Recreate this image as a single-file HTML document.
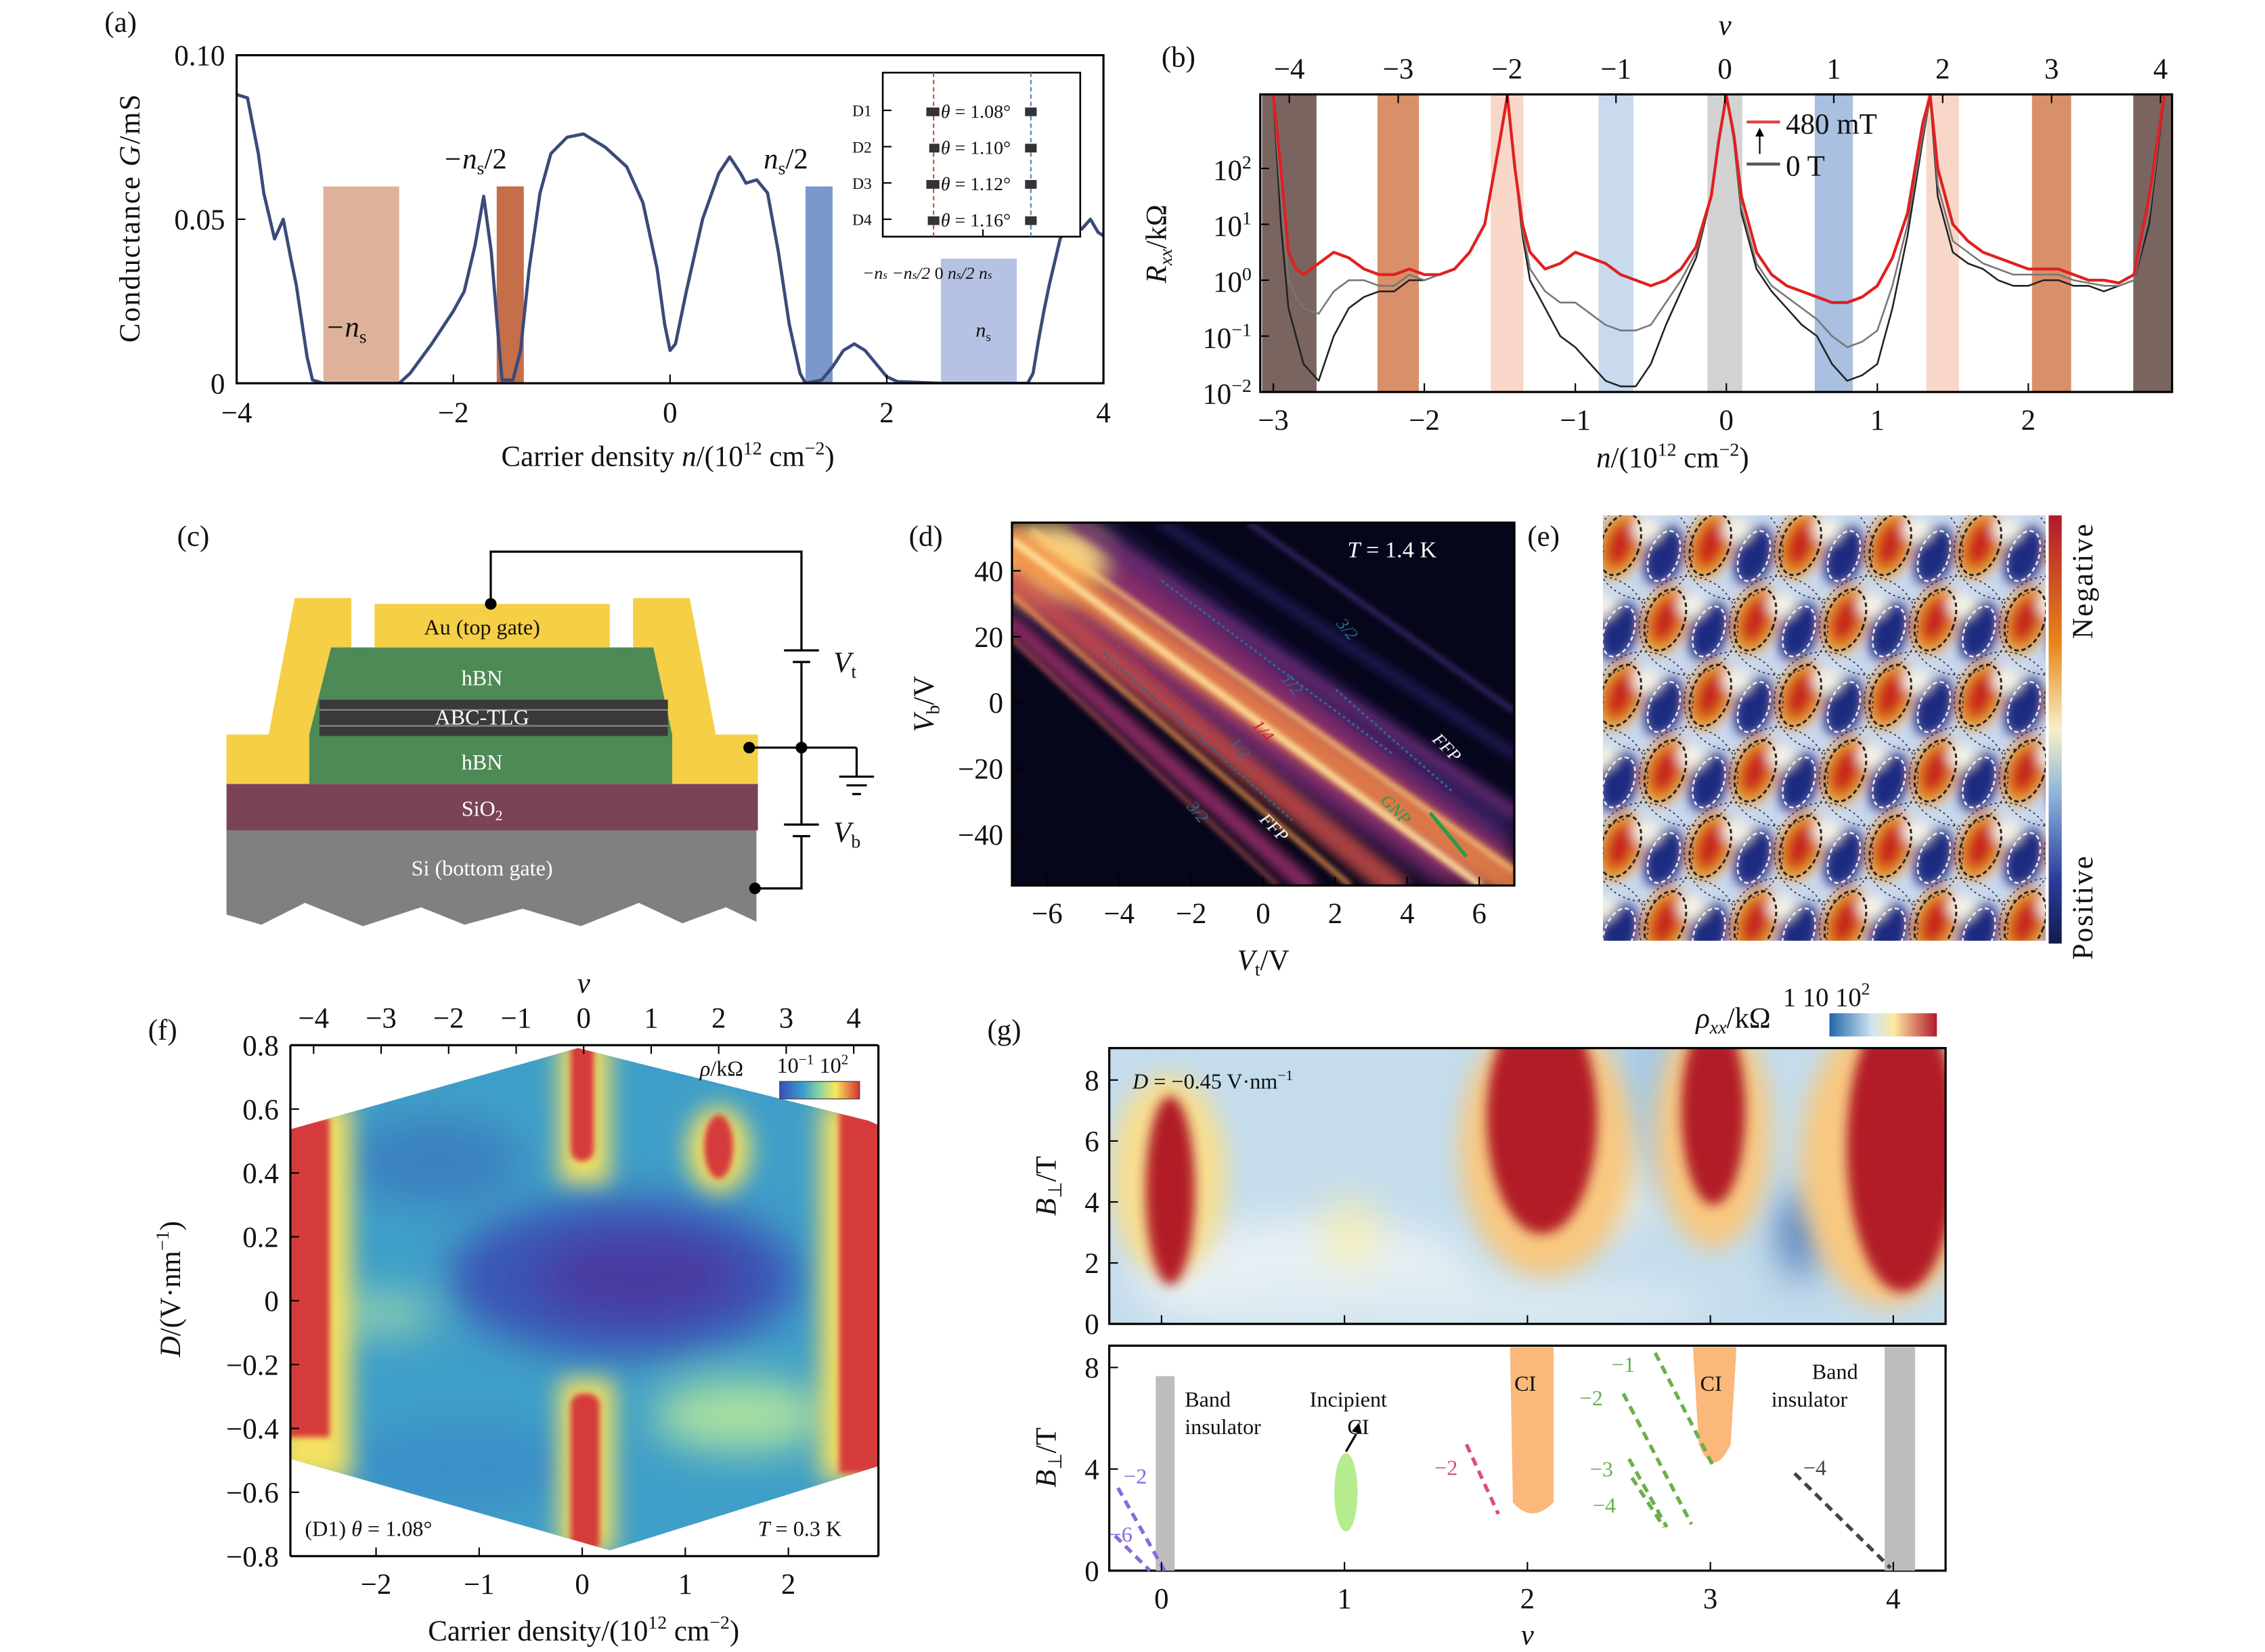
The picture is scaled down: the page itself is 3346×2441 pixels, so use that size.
<!DOCTYPE html>
<html><head><meta charset="utf-8">
<style>
html,body{margin:0;padding:0;background:#fff}
svg{display:block}
text{font-family:"Liberation Serif",serif;fill:#111}
</style></head>
<body>
<svg id="fig" width="3346" height="2441" viewBox="0 0 1560 1138" xmlns="http://www.w3.org/2000/svg">
<defs>
<filter id="b2" x="-20%" y="-20%" width="140%" height="140%"><feGaussianBlur stdDeviation="2"/></filter>
<filter id="b4" x="-30%" y="-30%" width="160%" height="160%"><feGaussianBlur stdDeviation="4"/></filter>
<filter id="b8" x="-50%" y="-50%" width="200%" height="200%"><feGaussianBlur stdDeviation="8"/></filter>
<filter id="b14" x="-50%" y="-50%" width="200%" height="200%"><feGaussianBlur stdDeviation="14"/></filter>
<clipPath id="clipA"><rect x="163" y="38" width="597" height="226"/></clipPath>
<clipPath id="clipB"><rect x="868" y="65" width="628" height="205"/></clipPath>
<clipPath id="clipD"><rect x="697" y="360" width="346" height="250"/></clipPath>
<clipPath id="clipE"><rect x="1104" y="355" width="305" height="293"/></clipPath>
<clipPath id="clipF"><polygon points="200,778 398,722 598,772 605,775 605,1010 420,1068 200,1005"/></clipPath>
<clipPath id="clipG"><rect x="764" y="722" width="576" height="190"/></clipPath>
<linearGradient id="cbE" x1="0" y1="0" x2="0" y2="1">
<stop offset="0" stop-color="#b2182b"/><stop offset="0.3" stop-color="#e7861b"/><stop offset="0.5" stop-color="#f7f0c8"/><stop offset="0.65" stop-color="#8fb4dc"/><stop offset="0.85" stop-color="#2a3d9c"/><stop offset="1" stop-color="#141a4a"/></linearGradient>
<linearGradient id="cbF" x1="0" y1="0" x2="1" y2="0">
<stop offset="0" stop-color="#3b4cc0"/><stop offset="0.3" stop-color="#3aa0c8"/><stop offset="0.5" stop-color="#8fd3a0"/><stop offset="0.7" stop-color="#f7e85a"/><stop offset="1" stop-color="#d73030"/></linearGradient>
<linearGradient id="cbG" x1="0" y1="0" x2="1" y2="0">
<stop offset="0" stop-color="#2166ac"/><stop offset="0.4" stop-color="#d1e5f0"/><stop offset="0.6" stop-color="#fde9a0"/><stop offset="1" stop-color="#b2182b"/></linearGradient>
</defs>

<!-- ===== Panel (a) ===== -->
<g id="pa">
<text x="72" y="22" font-size="20">(a)</text>
<g id="aBars"></g>
<g id="aLine" clip-path="url(#clipA)"></g>
<rect x="163" y="38" width="597" height="226" fill="none" stroke="#000" stroke-width="1.5"/>
<g id="aAxes"></g>
<text x="224" y="232" font-size="20" font-style="italic">−n<tspan font-size="13" dy="4" font-style="normal">s</tspan></text>
<text x="305" y="116" font-size="20" font-style="italic">−n<tspan font-size="13" dy="4" font-style="normal">s</tspan><tspan dy="-4" font-style="normal">/2</tspan></text>
<text x="526" y="116" font-size="20" font-style="italic">n<tspan font-size="13" dy="4" font-style="normal">s</tspan><tspan dy="-4" font-style="normal">/2</tspan></text>
<text x="672" y="232" font-size="14" font-style="italic">n<tspan font-size="9" dy="3" font-style="normal">s</tspan></text>
<text x="460" y="321" font-size="20" text-anchor="middle">Carrier density <tspan font-style="italic">n</tspan>/(10<tspan font-size="13" dy="-8">12</tspan><tspan dy="8"> cm</tspan><tspan font-size="13" dy="-8">−2</tspan><tspan dy="8">)</tspan></text>
<text transform="translate(96,150) rotate(-90)" font-size="20" text-anchor="middle" letter-spacing="1">Conductance <tspan font-style="italic">G</tspan>/mS</text>
<g>
<rect x="608" y="50" width="136" height="113" fill="#fff" stroke="#000" stroke-width="1.2"/>
<line x1="643" y1="50" x2="643" y2="163" stroke="#c0573a" stroke-width="1" stroke-dasharray="3,2"/>
<line x1="710" y1="50" x2="710" y2="163" stroke="#5a7fb8" stroke-width="1" stroke-dasharray="3,2"/>
<g font-size="11">
<text x="587" y="80">D1</text><text x="587" y="105">D2</text><text x="587" y="130">D3</text><text x="587" y="155">D4</text>
<text x="648" y="81" font-size="13"><tspan font-style="italic">θ</tspan> = 1.08°</text>
<text x="648" y="106" font-size="13"><tspan font-style="italic">θ</tspan> = 1.10°</text>
<text x="648" y="131" font-size="13"><tspan font-style="italic">θ</tspan> = 1.12°</text>
<text x="648" y="156" font-size="13"><tspan font-style="italic">θ</tspan> = 1.16°</text>
</g>
<g fill="#333"><rect x="638" y="74" width="9" height="6"/><rect x="706" y="74" width="8" height="6"/><rect x="640" y="99" width="7" height="6"/><rect x="706" y="99" width="8" height="6"/><rect x="638" y="124" width="9" height="6"/><rect x="706" y="124" width="8" height="6"/><rect x="639" y="149" width="8" height="6"/><rect x="706" y="149" width="8" height="6"/></g>
<g stroke="#000"><line x1="608" y1="76" x2="614" y2="76"/><line x1="608" y1="101" x2="614" y2="101"/><line x1="608" y1="126" x2="614" y2="126"/><line x1="608" y1="151" x2="614" y2="151"/><line x1="677" y1="163" x2="677" y2="158"/></g>
<text x="594" y="192" font-size="12" font-style="italic">−n<tspan font-size="8">s</tspan> −n<tspan font-size="8">s</tspan>/2 <tspan font-style="normal"> 0 </tspan> n<tspan font-size="8">s</tspan>/2    n<tspan font-size="8">s</tspan></text>
</g>
</g>

<!-- ===== Panel (b) ===== -->
<g id="pb">
<text x="800" y="46" font-size="20">(b)</text>
<g id="bBands" clip-path="url(#clipB)"></g>
<g id="bLines" clip-path="url(#clipB)"></g>
<rect x="868" y="65" width="628" height="205" fill="none" stroke="#000" stroke-width="1.5"/>
<g id="bAxes"></g>
<text x="1188" y="24" font-size="20" font-style="italic" text-anchor="middle">v</text>
<text x="1152" y="322" font-size="20" text-anchor="middle"><tspan font-style="italic">n</tspan>/(10<tspan font-size="13" dy="-8">12</tspan><tspan dy="8"> cm</tspan><tspan font-size="13" dy="-8">−2</tspan><tspan dy="8">)</tspan></text>
<text transform="translate(803,168) rotate(-90)" font-size="20" text-anchor="middle"><tspan font-style="italic">R<tspan font-size="13" dy="4">xx</tspan></tspan><tspan dy="-4">/kΩ</tspan></text>
<g>
<line x1="1203" y1="84" x2="1226" y2="84" stroke="#e04040" stroke-width="2"/>
<line x1="1203" y1="113" x2="1226" y2="113" stroke="#555" stroke-width="2"/>
<line x1="1212" y1="106" x2="1212" y2="92" stroke="#000" stroke-width="1"/><polygon points="1209,94 1215,94 1212,88" fill="#000"/>
<text x="1230" y="92" font-size="20">480 mT</text>
<text x="1230" y="121" font-size="20">0 T</text>
</g>
</g>

<!-- ===== Panel (c) ===== -->
<g id="pc">
<text x="122" y="376" font-size="20">(c)</text>
<polygon points="156,572 521,572 521,635 500,625 470,636 440,622 400,638 360,626 320,637 290,625 250,638 210,622 180,637 156,630" fill="#808080"/>
<text x="332" y="603" font-size="15" style="fill:#fff" text-anchor="middle">Si (bottom gate)</text>
<rect x="156" y="540" width="366" height="32" fill="#7b4358"/>
<text x="332" y="562" font-size="15" text-anchor="middle" style="fill:#fff">SiO<tspan font-size="10" dy="3">2</tspan></text>
<polygon points="203,412 242,412 242,446 228,446 213,506 213,540 156,540 156,506 185,506" fill="#f5cf45"/>
<polygon points="436,412 475,412 493,506 522,506 522,540 463,540 463,506 450,446 436,446" fill="#f5cf45"/>
<polygon points="228,446 450,446 463,506 463,540 213,540 213,506" fill="#4e8a55"/>
<rect x="220" y="482" width="240" height="25" fill="#3a3a3a"/>
<line x1="220" y1="489" x2="460" y2="489" stroke="#888" stroke-width="1"/>
<line x1="220" y1="500" x2="460" y2="500" stroke="#888" stroke-width="1"/>
<text x="332" y="472" font-size="15" text-anchor="middle" style="fill:#fff">hBN</text>
<text x="332" y="499" font-size="15" text-anchor="middle" style="fill:#fff">ABC-TLG</text>
<text x="332" y="530" font-size="15" text-anchor="middle" style="fill:#fff">hBN</text>
<rect x="258" y="416" width="162" height="30" fill="#f5cf45"/>
<text x="332" y="437" font-size="15" text-anchor="middle">Au (top gate)</text>
<g fill="none" stroke="#000" stroke-width="1.5">
<polyline points="338,416 338,380 552,380 552,448"/>
<line x1="540" y1="448" x2="564" y2="448"/><line x1="546" y1="456" x2="558" y2="456"/>
<polyline points="552,456 552,568"/>
<line x1="516" y1="515" x2="590" y2="515"/>
<polyline points="590,515 590,535"/><line x1="578" y1="535" x2="602" y2="535"/><line x1="583" y1="541" x2="597" y2="541"/><line x1="587" y1="547" x2="593" y2="547"/>
<line x1="540" y1="568" x2="564" y2="568"/><line x1="546" y1="576" x2="558" y2="576"/>
<polyline points="552,576 552,612 520,612"/>
</g>
<g fill="#000"><circle cx="338" cy="416" r="4"/><circle cx="516" cy="515" r="4"/><circle cx="552" cy="515" r="4"/><circle cx="520" cy="612" r="4"/></g>
<text x="574" y="463" font-size="20" font-style="italic">V<tspan font-size="13" dy="4" font-style="normal">t</tspan></text>
<text x="574" y="580" font-size="20" font-style="italic">V<tspan font-size="13" dy="4" font-style="normal">b</tspan></text>
</g>

<!-- ===== Panel (d) ===== -->
<g id="pd">
<text x="626" y="376" font-size="20">(d)</text>
<g clip-path="url(#clipD)">
<rect x="697" y="360" width="346" height="250" fill="#06061a"/>
<g filter="url(#b8)">
<polygon points="697,360 760,360 1043,560 1043,610 990,610 697,420" fill="#2a1a60"/>
<polygon points="697,360 740,360 1043,590 1043,610 1000,610 697,395" fill="#8a2d6a"/>
<ellipse cx="720" cy="385" rx="40" ry="25" fill="#f7d080"/>
</g>
<g filter="url(#b4)" fill="none" stroke-linecap="round">
<line x1="697" y1="375" x2="1043" y2="610" stroke="#f08a40" stroke-width="22" opacity="0.8"/>
<line x1="697" y1="400" x2="960" y2="610" stroke="#d0504a" stroke-width="18" opacity="0.8"/>
<line x1="697" y1="430" x2="900" y2="610" stroke="#8b2a62" stroke-width="12"/>
<line x1="740" y1="360" x2="1043" y2="560" stroke="#6a2a70" stroke-width="8"/>
<line x1="800" y1="360" x2="1043" y2="520" stroke="#2a2270" stroke-width="5"/>
</g>
<g filter="url(#b2)" fill="none">
<line x1="697" y1="372" x2="1020" y2="610" stroke="#ffe09a" stroke-width="5"/>
<line x1="710" y1="365" x2="1043" y2="600" stroke="#ffcb70" stroke-width="3"/>
<line x1="697" y1="410" x2="930" y2="610" stroke="#ff9a50" stroke-width="3"/>
<line x1="697" y1="440" x2="880" y2="610" stroke="#d86060" stroke-width="2"/>
<line x1="860" y1="360" x2="1043" y2="490" stroke="#5a3a9a" stroke-width="2"/>
</g>
<line x1="800" y1="400" x2="960" y2="520" stroke="#2a6a8a" stroke-width="1.5" stroke-dasharray="2,2"/>
<line x1="770" y1="445" x2="900" y2="560" stroke="#c03040" stroke-width="1.5" stroke-dasharray="2,2"/>
<line x1="760" y1="450" x2="890" y2="565" stroke="#2a6a8a" stroke-width="1.5" stroke-dasharray="2,2"/>
<line x1="920" y1="475" x2="1000" y2="545" stroke="#2a6a8a" stroke-width="1.5" stroke-dasharray="2,2"/>
<line x1="985" y1="560" x2="1010" y2="590" stroke="#2a9a4a" stroke-width="2.5"/>
</g>
<g font-size="12" font-style="italic">
<text x="920" y="430" style="fill:#2a6a8a" transform="rotate(50,920,430)">3/2</text>
<text x="882" y="468" style="fill:#2a6a8a" transform="rotate(50,882,468)">1/2</text>
<text x="862" y="500" style="fill:#d02030" transform="rotate(50,862,500)">1/4</text>
<text x="846" y="512" style="fill:#2a6a8a" transform="rotate(50,846,512)">1/2</text>
<text x="817" y="556" style="fill:#2a6a8a" transform="rotate(50,817,556)">3/2</text>
<text x="867" y="565" style="fill:#fff" transform="rotate(45,867,565)">FFP</text>
<text x="986" y="510" style="fill:#fff" transform="rotate(45,986,510)">FFP</text>
<text x="950" y="552" style="fill:#2a9a4a" transform="rotate(45,950,552)">GNP</text>
</g>
<rect x="697" y="360" width="346" height="250" fill="none" stroke="#000" stroke-width="1.5"/>
<text x="928" y="384" font-size="16" style="fill:#fff"><tspan font-style="italic">T</tspan> = 1.4 K</text>
<g id="dAxes"></g>
<text x="870" y="668" font-size="20" text-anchor="middle" font-style="italic">V<tspan font-size="13" dy="4" font-style="normal">t</tspan><tspan dy="-4" font-style="normal">/V</tspan></text>
<text transform="translate(643,485) rotate(-90)" font-size="20" text-anchor="middle" font-style="italic">V<tspan font-size="13" dy="4" font-style="normal">b</tspan><tspan dy="-4" font-style="normal">/V</tspan></text>
</g>

<!-- ===== Panel (e) ===== -->
<g id="pe">
<text x="1052" y="376" font-size="20">(e)</text>
<g clip-path="url(#clipE)">
<rect x="1104" y="355" width="305" height="293" fill="#c9d8ee"/>
<g id="eBlobs" filter="url(#b4)"></g>
<g id="eLines"></g>
</g>
<rect x="1411" y="355" width="9" height="295" fill="url(#cbE)"/>
<text transform="translate(1441,400) rotate(-90)" font-size="20" text-anchor="middle" letter-spacing="1">Negative</text>
<text transform="translate(1441,625) rotate(-90)" font-size="20" text-anchor="middle" letter-spacing="1">Positive</text>
</g>

<!-- ===== Panel (f) ===== -->
<g id="pf">
<text x="102" y="716" font-size="20">(f)</text>
<g clip-path="url(#clipF)">
<rect x="195" y="715" width="415" height="360" fill="#3f9fc8"/>
<g filter="url(#b14)">
<ellipse cx="430" cy="880" rx="120" ry="55" fill="#3b55b5"/>
<ellipse cx="440" cy="880" rx="70" ry="30" fill="#4a3aa0"/>
<ellipse cx="300" cy="800" rx="60" ry="30" fill="#3a80c0"/>
<ellipse cx="260" cy="905" rx="40" ry="14" fill="#8fd0b0"/>
<ellipse cx="510" cy="975" rx="60" ry="25" fill="#a8e0a0"/>
<ellipse cx="320" cy="1010" rx="80" ry="30" fill="#3a8fc8"/>
</g>
<g filter="url(#b8)">
<rect x="190" y="760" width="52" height="260" fill="#f5e060"/>
<rect x="565" y="760" width="50" height="260" fill="#f5e060"/>
<rect x="385" y="715" width="35" height="100" fill="#f5e060"/>
<rect x="385" y="950" width="38" height="120" fill="#f5e060"/>
<ellipse cx="495" cy="792" rx="22" ry="30" fill="#f5e060"/>
</g>
<g filter="url(#b2)" fill="#d63a3a">
<rect x="195" y="770" width="32" height="220"/>
<rect x="578" y="765" width="30" height="250"/>
<rect x="393" y="715" width="16" height="85" rx="8"/>
<rect x="393" y="960" width="20" height="110" rx="8"/>
<ellipse cx="495" cy="790" rx="10" ry="22"/>
</g>
</g>
<line x1="200" y1="720" x2="200" y2="1072" stroke="#000" stroke-width="1.5"/>
<line x1="200" y1="720" x2="605" y2="720" stroke="#000" stroke-width="1.5"/>
<line x1="605" y1="720" x2="605" y2="1072" stroke="#000" stroke-width="1.5"/>
<line x1="200" y1="1072" x2="605" y2="1072" stroke="#000" stroke-width="1.5"/>
<g id="fAxes"></g>
<text x="482" y="741" font-size="15" font-style="italic">ρ<tspan font-style="normal">/kΩ</tspan></text>
<text x="535" y="739" font-size="15">10<tspan font-size="10" dy="-6">−1</tspan><tspan dy="6"> 10</tspan><tspan font-size="10" dy="-6">2</tspan></text>
<rect x="537" y="745" width="55" height="12" fill="url(#cbF)" stroke="#444" stroke-width="0.6"/>
<text x="210" y="1058" font-size="15">(D1) <tspan font-style="italic">θ</tspan> = 1.08°</text>
<text x="522" y="1058" font-size="15"><tspan font-style="italic">T</tspan> = 0.3 K</text>
<text x="402" y="684" font-size="20" font-style="italic" text-anchor="middle">v</text>
<text x="402" y="1130" font-size="20" text-anchor="middle">Carrier density/(10<tspan font-size="13" dy="-8">12</tspan><tspan dy="8"> cm</tspan><tspan font-size="13" dy="-8">−2</tspan><tspan dy="8">)</tspan></text>
<text transform="translate(124,888) rotate(-90)" font-size="20" text-anchor="middle"><tspan font-style="italic">D</tspan>/(V·nm<tspan font-size="13" dy="-8">−1</tspan><tspan dy="8">)</tspan></text>
</g>

<!-- ===== Panel (g) ===== -->
<g id="pg">
<text x="680" y="716" font-size="20">(g)</text>
<text x="1168" y="708" font-size="20" font-style="italic">ρ<tspan font-size="13" dy="4">xx</tspan><tspan dy="-4" font-style="normal">/kΩ</tspan></text>
<text x="1228" y="693" font-size="18">1 10 10<tspan font-size="12" dy="-8">2</tspan></text>
<rect x="1260" y="698" width="74" height="16" fill="url(#cbG)"/>
<g clip-path="url(#clipG)">
<rect x="764" y="722" width="576" height="190" fill="#c4dcec"/>
<g filter="url(#b14)">
<ellipse cx="900" cy="880" rx="120" ry="40" fill="#e8f0f4"/>
<ellipse cx="1000" cy="900" rx="180" ry="20" fill="#dceaf2"/>
<ellipse cx="930" cy="850" rx="18" ry="25" fill="#f8f0b0"/>
<ellipse cx="1140" cy="760" rx="30" ry="60" fill="#a6c8e2"/>
<ellipse cx="1240" cy="850" rx="12" ry="30" fill="#3060a8"/>
<ellipse cx="1110" cy="820" rx="20" ry="30" fill="#f0f0e0"/>
</g>
<g filter="url(#b8)">
<ellipse cx="805" cy="810" rx="40" ry="70" fill="#f7df90"/>
<ellipse cx="1065" cy="790" rx="60" ry="90" fill="#f7c880"/>
<ellipse cx="1180" cy="780" rx="40" ry="80" fill="#f7c880"/>
<ellipse cx="1300" cy="800" rx="60" ry="100" fill="#f7c880"/>
</g>
<g filter="url(#b4)" fill="#b21a28">
<ellipse cx="806" cy="820" rx="17" ry="65"/>
<ellipse cx="1062" cy="770" rx="38" ry="80"/>
<ellipse cx="1180" cy="765" rx="22" ry="65"/>
<ellipse cx="1310" cy="790" rx="38" ry="100"/>
</g>
</g>
<rect x="764" y="722" width="576" height="190" fill="none" stroke="#000" stroke-width="1.5"/>
<text x="780" y="750" font-size="15"><tspan font-style="italic">D</tspan> = −0.45 V·nm<tspan font-size="10" dy="-6">−1</tspan></text>
<g>
<rect x="764" y="927" width="576" height="155" fill="#fff" stroke="#000" stroke-width="1.5"/>
<rect x="796" y="948" width="13" height="134" fill="#bdbdbd"/>
<rect x="1298" y="928" width="21" height="154" fill="#bdbdbd"/>
<path d="M1040,928 L1070,928 L1070,1035 Q1055,1050 1042,1035 Z" fill="#fab87a"/>
<path d="M1166,928 L1196,928 L1192,995 Q1180,1020 1170,995 Z" fill="#fab87a"/>
<ellipse cx="927" cy="1028" rx="8" ry="27" fill="#b5ec8e"/>
<line x1="927" y1="1000" x2="934" y2="988" stroke="#000" stroke-width="1.5"/><polygon points="931,986 938,988 936,980" fill="#000"/>
<g stroke-dasharray="6,4" stroke-width="2.5" fill="none">
<line x1="770" y1="1025" x2="802" y2="1082" stroke="#8a6ad8"/>
<line x1="768" y1="1058" x2="792" y2="1082" stroke="#8a6ad8"/>
<line x1="1010" y1="995" x2="1032" y2="1043" stroke="#d8507a"/>
<line x1="1140" y1="932" x2="1180" y2="1010" stroke="#6ab04a"/>
<line x1="1118" y1="960" x2="1165" y2="1050" stroke="#6ab04a"/>
<line x1="1122" y1="1005" x2="1148" y2="1052" stroke="#6ab04a"/>
<line x1="1124" y1="1018" x2="1146" y2="1052" stroke="#6ab04a"/>
<line x1="1236" y1="1015" x2="1302" y2="1080" stroke="#444"/>
</g>
<g font-size="15">
<text x="774" y="1022" style="fill:#8a6ad8">−2</text>
<text x="764" y="1062" style="fill:#8a6ad8">−6</text>
<text x="988" y="1016" style="fill:#d8507a">−2</text>
<text x="1110" y="945" style="fill:#6ab04a">−1</text>
<text x="1088" y="968" style="fill:#6ab04a">−2</text>
<text x="1095" y="1017" style="fill:#6ab04a">−3</text>
<text x="1097" y="1042" style="fill:#6ab04a">−4</text>
<text x="1242" y="1016" style="fill:#444">−4</text>
<text x="816" y="969">Band</text><text x="816" y="988">insulator</text>
<text x="902" y="969">Incipient</text><text x="928" y="988">CI</text>
<text x="1043" y="958">CI</text><text x="1171" y="958">CI</text>
<text x="1248" y="950">Band</text><text x="1220" y="969">insulator</text>
</g>
</g>
<g id="gAxes"></g>
<text x="1052" y="1133" font-size="20" font-style="italic" text-anchor="middle">v</text>
<text transform="translate(727,817) rotate(-90)" font-size="20" text-anchor="middle" font-style="italic">B<tspan font-size="13" dy="4" font-style="normal">⊥</tspan><tspan dy="-4" font-style="normal">/T</tspan></text>
<text transform="translate(727,1004) rotate(-90)" font-size="20" text-anchor="middle" font-style="italic">B<tspan font-size="13" dy="4" font-style="normal">⊥</tspan><tspan dy="-4" font-style="normal">/T</tspan></text>
</g>
</svg>
<script>
// ---- data: panel (a) ----
const aDensity = [-4,-3.9,-3.8,-3.75,-3.65,-3.57,-3.5,-3.45,-3.35,-3.3,-3.2,-2.5,-2.4,-2.2,-2.0,-1.9,-1.8,-1.72,-1.65,-1.58,-1.55,-1.45,-1.38,-1.3,-1.2,-1.1,-0.95,-0.8,-0.6,-0.4,-0.25,-0.12,-0.05,0,0.05,0.15,0.3,0.45,0.55,0.65,0.7,0.8,0.9,1.0,1.1,1.2,1.25,1.4,1.5,1.6,1.7,1.8,1.9,2.0,2.1,2.5,3.3,3.35,3.4,3.45,3.5,3.6,3.7,3.8,3.88,3.95,4];
const aConductance = [0.088,0.087,0.07,0.058,0.044,0.05,0.038,0.03,0.008,0.001,0,0,0.003,0.012,0.022,0.028,0.042,0.057,0.04,0.012,0.001,0.001,0.01,0.035,0.058,0.07,0.075,0.076,0.072,0.066,0.055,0.035,0.018,0.01,0.012,0.028,0.05,0.064,0.069,0.064,0.061,0.062,0.058,0.04,0.018,0.003,0,0.001,0.005,0.01,0.012,0.01,0.006,0.002,0.0005,0,0,0.003,0.013,0.022,0.03,0.044,0.05,0.047,0.05,0.046,0.045];
const aBandStart = [-3.2,-1.6,1.25,2.5];
const aBandEnd = [-2.5,-1.35,1.5,3.2];
const aBandTop = [0.06,0.06,0.06,0.038];
const aBandColor = ['#deb29a','#c46e4a','#7b97cc','#b6c2e4'];
const aXTicks = [-4,-2,0,2,4];
const aYTicks = [0,0.05,0.10];
const aYTickLabels = ['0','0.05','0.10'];
// ---- data: panel (b) ----
const bDensity = [-3.0,-2.95,-2.9,-2.85,-2.8,-2.7,-2.6,-2.5,-2.4,-2.3,-2.2,-2.1,-2.0,-1.9,-1.8,-1.7,-1.6,-1.5,-1.45,-1.4,-1.35,-1.3,-1.2,-1.1,-1.0,-0.9,-0.8,-0.7,-0.6,-0.5,-0.4,-0.3,-0.2,-0.1,-0.05,0,0.05,0.1,0.2,0.3,0.4,0.5,0.6,0.7,0.8,0.9,1.0,1.1,1.2,1.3,1.35,1.4,1.5,1.6,1.7,1.8,1.9,2.0,2.1,2.2,2.3,2.4,2.5,2.6,2.7,2.8,2.9];
const bLogR480mT = [3.3,2,0.5,0.2,0.1,0.3,0.5,0.4,0.2,0.1,0.1,0.2,0.1,0.1,0.2,0.5,1.0,2.5,3.3,2.0,1.0,0.5,0.2,0.3,0.5,0.4,0.3,0.1,0.0,-0.1,0.0,0.2,0.6,1.5,2.5,3.3,2.6,1.5,0.5,0.1,-0.1,-0.2,-0.3,-0.4,-0.4,-0.3,-0.1,0.4,1.2,2.8,3.3,2.0,1.0,0.7,0.5,0.4,0.3,0.2,0.2,0.2,0.1,0.0,0.0,-0.05,0.1,1.5,3.3];
const bLogRMid = [3.3,1.5,0,-0.3,-0.5,-0.6,-0.2,0,0,-0.1,-0.1,0.1,0,0.1,0.2,0.5,1.0,2.5,3.3,2.0,0.9,0.2,-0.2,-0.4,-0.4,-0.6,-0.8,-0.9,-0.9,-0.8,-0.4,0,0.5,1.5,2.5,3.3,2.5,1.3,0.3,-0.1,-0.3,-0.5,-0.7,-1.0,-1.2,-1.1,-0.9,-0.1,1.0,2.6,3.3,1.7,0.7,0.5,0.3,0.2,0.1,0.1,0.1,0.1,0.0,-0.05,-0.1,-0.1,0.0,1.2,3.3];
const bLogR0T = [3.3,1.0,-0.5,-1.0,-1.5,-1.8,-1.0,-0.5,-0.3,-0.2,-0.2,0,0,0.1,0.2,0.5,1.0,2.5,3.3,2.0,0.8,0.0,-0.5,-1.0,-1.2,-1.5,-1.8,-1.9,-1.9,-1.5,-0.8,-0.2,0.4,1.5,2.5,3.3,2.5,1.2,0.2,-0.2,-0.5,-0.8,-1.0,-1.5,-1.8,-1.7,-1.5,-0.5,0.8,2.5,3.3,1.5,0.5,0.3,0.2,0.0,-0.1,-0.1,0.0,0.0,-0.1,-0.1,-0.2,-0.1,0.0,1.0,3.3];
const bBandNu = [-4,-3,-2,-1,0,1,2,3,4];
const bBandWidth = [0.5,0.38,0.3,0.32,0.32,0.35,0.3,0.36,0.5];
const bBandColor = ['#7a6460','#d9906a','#f8d7c8','#c9daef','#d2d2d2','#a9c0e0','#f8d7c8','#d9906a','#7a6460'];
const bXTicks = [-3,-2,-1,0,1,2];
const bNuTicks = [-4,-3,-2,-1,0,1,2,3,4];
const bYExp = [-2,-1,0,1,2];
// ---- data: panel (d) ticks ----
const dXTicks = [-6,-4,-2,0,2,4,6];
const dYTicks = [40,20,0,-20,-40];
// ---- data: panel (f) ticks ----
const fXTicks = [-2,-1,0,1,2];
const fYTicks = [0.8,0.6,0.4,0.2,0,-0.2,-0.4,-0.6,-0.8];
const fNuTicks = [-4,-3,-2,-1,0,1,2,3,4];
// ---- data: panel (g) ticks ----
const gNuTicks = [0,1,2,3,4];
const gBTopTicks = [0,2,4,6,8];
const gBBotTicks = [0,4,8];

const NS='http://www.w3.org/2000/svg';
function mk(tag, attrs, parent){const e=document.createElementNS(NS,tag);for(const k in attrs)e.setAttribute(k,attrs[k]);parent.appendChild(e);return e;}
function fmt(v){return (v<0?'−':'')+Math.abs(v);}

// panel a
const ax = n => 163 + (n+4)/8*597;
const ay = g => 264 - g/0.10*226;
const aBars=document.getElementById('aBars');
aBandStart.forEach((s,i)=>{
  const r=mk('rect',{x:ax(s),y:ay(aBandTop[i]),width:ax(aBandEnd[i])-ax(s),height:ay(0)-ay(aBandTop[i]),fill:aBandColor[i]},aBars);
  
  
});
const aL=mk('polyline',{points:aDensity.map((n,i)=>ax(n)+','+ay(aConductance[i])).join(' '),fill:'none',stroke:'#3a4a7a','stroke-width':2.2,'stroke-linejoin':'round'},document.getElementById('aLine'));


const aAx=document.getElementById('aAxes');
aXTicks.forEach(t=>{mk('line',{x1:ax(t),y1:264,x2:ax(t),y2:258,stroke:'#000'},aAx);const tx=mk('text',{x:ax(t),y:291,'font-size':20,'text-anchor':'middle'},aAx);tx.textContent=fmt(t);
  
  });
aYTicks.forEach((t,i)=>{mk('line',{x1:163,y1:ay(t),x2:169,y2:ay(t),stroke:'#000'},aAx);const tx=mk('text',{x:155,y:ay(t)+7,'font-size':20,'text-anchor':'end'},aAx);tx.textContent=aYTickLabels[i];
  
  });

// panel b
const bx = n => 1189 + n*104;
const bnu = v => 1188 + v*75;
const by = lg => 193 - lg*38.5;
const bB=document.getElementById('bBands');
bBandNu.forEach((v,i)=>{
  const c=bnu(v);const w=bBandWidth[i]*75;
  const r=mk('rect',{x:c-w/2,y:65,width:w,height:205,fill:bBandColor[i]},bB);
  
  
});
const bL=document.getElementById('bLines');
[[bLogR0T,'#222',1.2],[bLogRMid,'#777',1.2],[bLogR480mT,'#e02020',2]].forEach(([arr,col,w],k)=>{
  const p=mk('polyline',{points:bDensity.map((n,i)=>bx(n)+','+by(arr[i])).join(' '),fill:'none',stroke:col,'stroke-width':w,'stroke-linejoin':'round'},bL);
  
  
});
const bAx=document.getElementById('bAxes');
bXTicks.forEach(t=>{mk('line',{x1:bx(t),y1:270,x2:bx(t),y2:264,stroke:'#000'},bAx);const tx=mk('text',{x:bx(t),y:296,'font-size':20,'text-anchor':'middle'},bAx);tx.textContent=fmt(t);
  
  });
bNuTicks.forEach(t=>{mk('line',{x1:bnu(t),y1:65,x2:bnu(t),y2:71,stroke:'#000'},bAx);const tx=mk('text',{x:bnu(t),y:54,'font-size':20,'text-anchor':'middle'},bAx);tx.textContent=fmt(t);
  
  });
bYExp.forEach(e=>{mk('line',{x1:868,y1:by(e),x2:874,y2:by(e),stroke:'#000'},bAx);const tx=mk('text',{x:862,y:by(e)+8,'font-size':20,'text-anchor':'end'},bAx);tx.innerHTML='10<tspan font-size="13" dy="-8">'+fmt(e)+'</tspan>';
  
  });

// panel d
const dx = v => 870 + v*24.8;
const dy = v => 484 - v*2.27;
const dAx=document.getElementById('dAxes');
dXTicks.forEach(t=>{mk('line',{x1:dx(t),y1:610,x2:dx(t),y2:604,stroke:'#000'},dAx);const tx=mk('text',{x:dx(t),y:636,'font-size':20,'text-anchor':'middle'},dAx);tx.textContent=fmt(t);
  
  });
dYTicks.forEach(t=>{mk('line',{x1:697,y1:dy(t),x2:703,y2:dy(t),stroke:'#000'},dAx);const tx=mk('text',{x:691,y:dy(t)+7,'font-size':20,'text-anchor':'end'},dAx);tx.textContent=fmt(t);
  
  });

// panel e decorative pattern
const eB=document.getElementById('eBlobs'), eLn=document.getElementById('eLines');
for(let r=0;r<6;r++){for(let c=-1;c<6;c++){
  const cx=1104+c*62+(r%2)*31+12, cy=375+r*52;
  mk('ellipse',{cx:cx,cy:cy,rx:15,ry:24,fill:'#e8901e',transform:'rotate(20,'+cx+','+cy+')'},eB);
  mk('ellipse',{cx:cx,cy:cy,rx:9,ry:16,fill:'#c8281e',transform:'rotate(20,'+cx+','+cy+')'},eB);
  mk('ellipse',{cx:cx+30,cy:cy+8,rx:13,ry:21,fill:'#1e2a80',transform:'rotate(20,'+(cx+30)+','+(cy+8)+')'},eB);
  mk('ellipse',{cx:cx+18,cy:cy-10,rx:10,ry:8,fill:'#f4f2e6'},eB);
  mk('ellipse',{cx:cx,cy:cy,rx:13,ry:22,fill:'none',stroke:'#222','stroke-width':1.4,'stroke-dasharray':'3,2',transform:'rotate(20,'+cx+','+cy+')'},eLn);
  mk('ellipse',{cx:cx+30,cy:cy+8,rx:10,ry:18,fill:'none',stroke:'#eee','stroke-width':1.2,'stroke-dasharray':'3,2',transform:'rotate(20,'+(cx+30)+','+(cy+8)+')'},eLn);
  mk('circle',{cx:cx+16,cy:cy+4,r:34,fill:'none',stroke:'#333','stroke-width':0.8,'stroke-dasharray':'1.5,2'},eLn);
}}

// panel f
const fx = v => 401 + v*71;
const fy = v => 896 - v*220;
const fnu = v => 402 + v*46.5;
const fAx=document.getElementById('fAxes');
fXTicks.forEach(t=>{mk('line',{x1:fx(t),y1:1072,x2:fx(t),y2:1066,stroke:'#000'},fAx);const tx=mk('text',{x:fx(t),y:1098,'font-size':20,'text-anchor':'middle'},fAx);tx.textContent=fmt(t);
  
  });
fNuTicks.forEach(t=>{mk('line',{x1:fnu(t),y1:720,x2:fnu(t),y2:726,stroke:'#000'},fAx);const tx=mk('text',{x:fnu(t),y:708,'font-size':20,'text-anchor':'middle'},fAx);tx.textContent=fmt(t);
  
  });
fYTicks.forEach(t=>{mk('line',{x1:200,y1:fy(t),x2:206,y2:fy(t),stroke:'#000'},fAx);const tx=mk('text',{x:192,y:fy(t)+7,'font-size':20,'text-anchor':'end'},fAx);tx.textContent=fmt(Math.round(t*10)/10);
  
  });

// panel g
const gx = v => 800 + v*126;
const gyT = v => 912 - v*21;
const gyB = v => 1082 - v*17.5;
const gAx=document.getElementById('gAxes');
gNuTicks.forEach(t=>{
  mk('line',{x1:gx(t),y1:912,x2:gx(t),y2:906,stroke:'#000'},gAx);
  mk('line',{x1:gx(t),y1:1082,x2:gx(t),y2:1076,stroke:'#000'},gAx);
  const tx=mk('text',{x:gx(t),y:1108,'font-size':20,'text-anchor':'middle'},gAx);tx.textContent=fmt(t);
  
  });
gBTopTicks.forEach(t=>{mk('line',{x1:764,y1:gyT(t),x2:770,y2:gyT(t),stroke:'#000'},gAx);const tx=mk('text',{x:757,y:gyT(t)+7,'font-size':20,'text-anchor':'end'},gAx);tx.textContent=fmt(t);
  
  });
gBBotTicks.forEach(t=>{mk('line',{x1:764,y1:gyB(t),x2:770,y2:gyB(t),stroke:'#000'},gAx);const tx=mk('text',{x:757,y:gyB(t)+7,'font-size':20,'text-anchor':'end'},gAx);tx.textContent=fmt(t);
  
  });
</script>
</body></html>
